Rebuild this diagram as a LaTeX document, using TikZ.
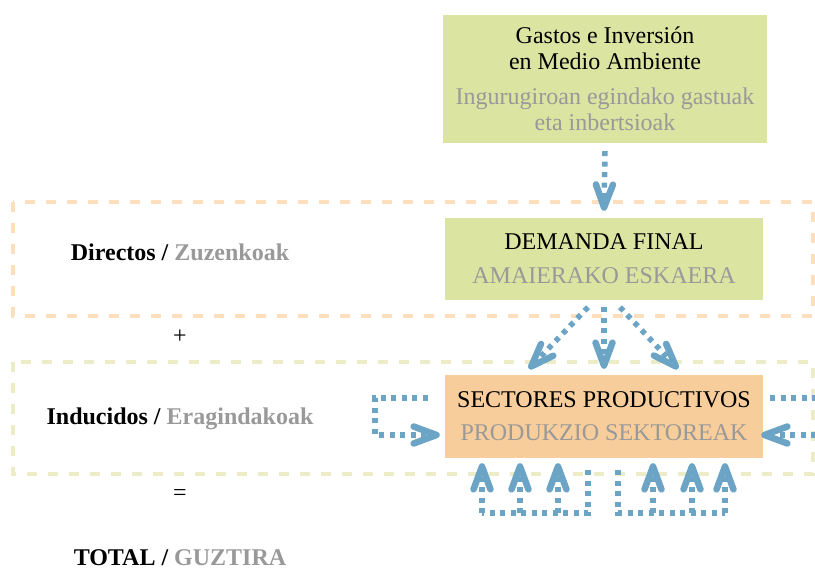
\documentclass[tikz,border=0pt]{standalone}
\usepackage{fontspec}
\setmainfont{Liberation Serif}
\usetikzlibrary{arrows.meta}
\definecolor{boxgreen}{HTML}{DCE4A2}
\definecolor{boxorange}{HTML}{F8CD9C}
\definecolor{lineorange}{HTML}{FDDFBE}
\definecolor{linegreen}{HTML}{ECEDC6}
\definecolor{flowblue}{HTML}{6CA4C6}
\definecolor{txtgray}{HTML}{999999}
\newcommand{\bigtxt}{\fontsize{24}{26}\selectfont}

\begin{document}
\begin{tikzpicture}[x=1pt,y=-1pt,
    box/.style={minimum width=318pt,minimum height=82pt,inner sep=0pt,align=center,font=\bigtxt},
    zone/.style={line width=4pt,dash pattern=on 10pt off 11pt},
    flow/.style={draw=flowblue,line width=5.5pt,dash pattern=on 5pt off 5.5pt},
    flowarrow/.style={flow,-{Straight Barb[length=23pt,width=17pt,line width=6.5pt,round]}},
    label/.style={font=\bigtxt\bfseries}]
    \useasboundingbox (0,0) rectangle (815,572);

    \draw[zone,lineorange] (13,202) rectangle (813,316);
    \draw[zone,linegreen] (13,362) rectangle (813,474);

    \node[box,fill=boxgreen,minimum width=324pt,minimum height=128pt] (gastos) at (605,79)
        {Gastos e Inversión\\en Medio Ambiente\\[9pt]\textcolor{txtgray}{Ingurugiroan egindako gastuak}\\\textcolor{txtgray}{eta inbertsioak}};
    \node[box,fill=boxgreen] (demanda) at (604,259)
        {DEMANDA FINAL\\[8pt]\textcolor{txtgray}{AMAIERAKO ESKAERA}};
    \node[box,fill=boxorange,minimum height=83pt] (sectores) at (604,416.5)
        {SECTORES PRODUCTIVOS\\[7pt]\textcolor{txtgray}{PRODUKZIO SEKTOREAK}};

    \node[label] (directos) at (180,252) {Directos / \textcolor{txtgray}{Zuzenkoak}};
    \node[font=\bigtxt] (mas) at (180,337) {+};
    \node[label] (inducidos) at (180,419) {Inducidos / \textcolor{txtgray}{Eragindakoak}};
    \node[font=\bigtxt] (igual) at (180,495) {=};
    \node[label,inner sep=0pt] (total) at (180,558) {TOTAL / \textcolor{txtgray}{GUZTIRA}};

    \draw[flowarrow] ([yshift=-8pt]gastos.south) -- ([yshift=7pt]demanda.north);
    \draw[flowarrow] ([yshift=-7pt]demanda.south) -- ([yshift=6pt]sectores.north);
    \draw[flowarrow] ([xshift=-16pt,yshift=-7pt]demanda.south) -- ([xshift=-75pt,yshift=6pt]sectores.north);
    \draw[flowarrow] ([xshift=16pt,yshift=-7pt]demanda.south) -- ([xshift=74pt,yshift=6pt]sectores.north);

    \draw[flowarrow] ([xshift=-17pt,yshift=18.5pt]sectores.west) -| ([xshift=-70pt,yshift=-18.5pt]sectores.west)
        -- ([xshift=-5pt,yshift=-18.5pt]sectores.west);
    \draw[flowarrow] ([xshift=7pt,yshift=18.5pt]sectores.east) -| ([xshift=64pt,yshift=-18.5pt]sectores.east)
        -- ([xshift=-2pt,yshift=-18.5pt]sectores.east);

    \coordinate (leftbase) at ([xshift=-16pt,yshift=-55pt]sectores.south);
    \coordinate (rightbase) at ([xshift=14pt,yshift=-55pt]sectores.south);
    \draw[flow] ([xshift=-16pt,yshift=-12pt]sectores.south) -- (leftbase) -- ++(-106,0);
    \draw[flow] ([xshift=14pt,yshift=-12pt]sectores.south) -- (rightbase) -- ++(107,0);
    \foreach \dx in {-122,-84,-46,49,88,121}{
        \coordinate (tip) at ([xshift=\dx pt,yshift=-5pt]sectores.south);
        \draw[flowarrow] (leftbase -| tip) -- (tip);
    }
\end{tikzpicture}
\end{document}
